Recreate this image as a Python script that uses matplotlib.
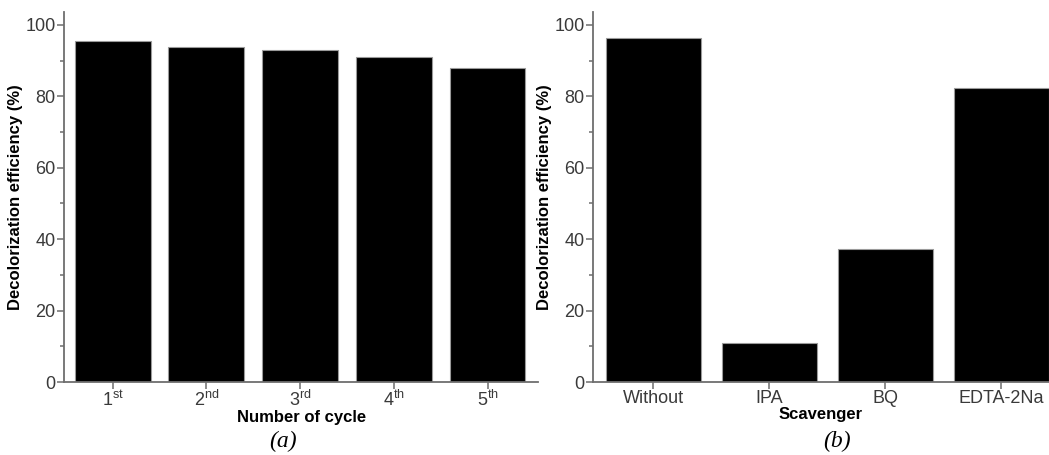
import matplotlib.pyplot as plt
from matplotlib.ticker import MultipleLocator

plt.rcParams['font.family'] = ['Liberation Sans', 'DejaVu Sans']
plt.rcParams['mathtext.default'] = 'regular'

# ----- Data -----
cycles = [r'1$^{st}$', r'2$^{nd}$', r'3$^{rd}$', r'4$^{th}$', r'5$^{th}$']
cycle_eff = [95.6, 93.8, 92.9, 90.9, 87.8]

scavengers = ['Without', 'IPA', 'BQ', 'EDTA-2Na']
scavenger_eff = [96.2, 10.8, 37.2, 82.2]

axis_grey = '#6e6e6e'
text_grey = '#3a3a3a'

fig = plt.figure(figsize=(10.49, 4.55), dpi=100)
ax_a = fig.add_axes([0.061, 0.1604, 0.452, 0.8132])
ax_b = fig.add_axes([0.5653, 0.1604, 0.4347, 0.8132])


def style_axis(ax, labels, xlabel):
    for side in ['top', 'right']:
        ax.spines[side].set_visible(False)
    for side in ['left', 'bottom']:
        ax.spines[side].set_color(axis_grey)
        ax.spines[side].set_linewidth(1.3)
    ax.set_ylim(0, 103.6)
    ax.yaxis.set_major_locator(MultipleLocator(20))
    ax.yaxis.set_minor_locator(MultipleLocator(10))
    ax.set_xticks(range(1, len(labels) + 1))
    ax.set_xticklabels(labels)
    ax.tick_params(axis='both', which='major', direction='out', length=5,
                   width=1.1, color=axis_grey, labelcolor=text_grey,
                   labelsize=13, pad=1)
    ax.tick_params(axis='y', which='minor', direction='out', length=3,
                   width=1.1, color=axis_grey)
    ax.set_xlabel(xlabel, fontsize=12, fontweight='bold', labelpad=0)
    ax.set_ylabel('Decolorization efficiency (%)', fontsize=12,
                  fontweight='bold', labelpad=2)


x_a = range(1, len(cycles) + 1)
ax_a.bar(x_a, cycle_eff, width=0.81, color='black', edgecolor='#9a9a9a',
         linewidth=0.8)
ax_a.set_xlim(0.48, 5.54)
style_axis(ax_a, cycles, 'Number of cycle')

x_b = range(1, len(scavengers) + 1)
ax_b.bar(x_b, scavenger_eff, width=0.82, color='black', edgecolor='#9a9a9a',
         linewidth=0.8)
ax_b.set_xlim(0.48, 4.41)
style_axis(ax_b, scavengers, 'Scavenger')

# Panel captions
fig.text(0.27, 0.03, '(a)', fontsize=17, style='italic',
         family='Liberation Serif', ha='center', va='center')
fig.text(0.798, 0.03, '(b)', fontsize=17, style='italic',
         family='Liberation Serif', ha='center', va='center')

fig.savefig('out.png', dpi=100)
